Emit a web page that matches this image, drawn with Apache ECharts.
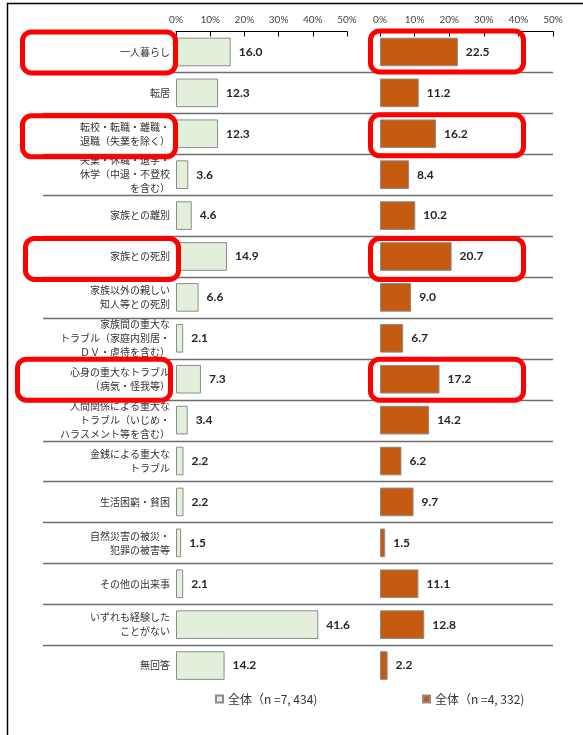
<!DOCTYPE html>
<html>
<head>
<meta charset="utf-8">
<script src="https://cdn.jsdelivr.net/npm/echarts@6/dist/echarts.min.js"></script>
<style>
  html, body { margin: 0; padding: 0; background: #fff; }
  #chart { width: 583px; height: 735px; }
</style>
</head>
<body>
<div id="chart"></div>
<script>
// Life events experienced, two respondent groups (percent)
const categories = [
  '一人暮らし',
  '転居',
  '転校・転職・離職・\n退職（失業を除く）',
  '失業・休職・退学・\n休学（中退・不登校\nを含む）',
  '家族との離別',
  '家族との死別',
  '家族以外の親しい\n知人等との死別',
  '家族間の重大な\nトラブル（家庭内別居・\nＤＶ・虐待を含む）',
  '心身の重大なトラブル\n（病気・怪我等）',
  '人間関係による重大な\nトラブル（いじめ・\nハラスメント等を含む）',
  '金銭による重大な\nトラブル',
  '生活困窮・貧困',
  '自然災害の被災・\n犯罪の被害等',
  'その他の出来事',
  'いずれも経験した\nことがない',
  '無回答'
];
const groupA = [16.0, 12.3, 12.3, 3.6, 4.6, 14.9, 6.6, 2.1, 7.3, 3.4, 2.2, 2.2, 1.5, 2.1, 41.6, 14.2];
const groupB = [22.5, 11.2, 16.2, 8.4, 10.2, 20.7, 9.0, 6.7, 17.2, 14.2, 6.2, 9.7, 1.5, 11.1, 12.8, 2.2];
const nameA = '全体（n =7, 434)';
const nameB = '全体（n =4, 332)';
// rows outlined in red
const highlighted = [0, 2, 5, 8];

const chart = echarts.init(document.getElementById('chart'));

const gridTop = 31.5, gridHeight = 654.5;

function pctAxis(gridIndex) {
  return {
    type: 'value', gridIndex, position: 'top', min: 0, max: 50, interval: 10,
    axisLine: { show: true, lineStyle: { color: '#000', width: 1 } },
    axisTick: { show: true, inside: true, length: 5, lineStyle: { color: '#000' } },
    axisLabel: { formatter: '{value}%', fontSize: 10, color: '#444', margin: 7, fontFamily: 'Lato' },
    splitLine: { show: false }
  };
}

function catAxis(gridIndex, showLabels) {
  return {
    type: 'category', gridIndex, data: categories, inverse: true,
    axisLine: { show: false }, axisTick: { show: false },
    axisLabel: {
      show: showLabels, interval: 0, margin: 6, fontSize: 10, lineHeight: 14,
      color: '#333', fontFamily: 'Noto Sans CJK JP', align: 'right'
    }
  };
}

const valueLabel = {
  show: true, position: 'right', distance: 8,
  fontFamily: 'Lato', fontWeight: 'bold', fontSize: 12, color: '#262626',
  formatter: p => p.value.toFixed(1)
};

chart.setOption({
  animation: false,
  backgroundColor: '#fff',
  grid: [
    { left: 176, width: 171, top: gridTop, height: gridHeight },
    { left: 380, width: 173, top: gridTop, height: gridHeight }
  ],
  xAxis: [pctAxis(0), pctAxis(1)],
  yAxis: [catAxis(0, true), catAxis(1, false)],
  legend: [
    {
      data: [nameA], left: 210, top: 688, icon: 'rect', itemWidth: 7, itemHeight: 7, itemGap: 4,
      textStyle: { fontSize: 12, color: '#333', fontFamily: 'Noto Sans CJK JP' }
    },
    {
      data: [nameB], left: 417, top: 688, icon: 'rect', itemWidth: 7, itemHeight: 7, itemGap: 4,
      textStyle: { fontSize: 12, color: '#333', fontFamily: 'Noto Sans CJK JP' }
    }
  ],
  series: [
    {
      name: nameA, type: 'bar', xAxisIndex: 0, yAxisIndex: 0, data: groupA, barWidth: '70%',
      itemStyle: { color: '#E2EFDA', borderColor: '#8c8c8c', borderWidth: 1 },
      label: valueLabel
    },
    {
      name: nameB, type: 'bar', xAxisIndex: 1, yAxisIndex: 1, data: groupB, barWidth: '70%',
      itemStyle: { color: '#C55A11', borderColor: '#8c8c8c', borderWidth: 1 },
      label: valueLabel
    }
  ]
});

// Row separators, red outlines and the outer frame, placed from the category scale
const rowY = i => chart.convertToPixel({ yAxisIndex: 0 }, i);
const graphics = [];

graphics.push({
  type: 'polyline', z: 0,
  shape: { points: [[7.5, 740], [7.5, 3.5], [590, 3.5]] },
  style: { stroke: '#000', lineWidth: 1.5, fill: null }
});

for (let i = 1; i < categories.length; i++) {
  const y = Math.round((rowY(i - 1) + rowY(i)) / 2) + 0.5;
  graphics.push({
    type: 'line', z: 0,
    shape: { x1: 43, y1: y, x2: 553, y2: y },
    style: { stroke: '#6e6e6e', lineWidth: 1.5 }
  });
}

// hand-drawn outlines sit slightly off the rows: [left x, dy, right x, dy]
const outlineShift = { 0: [0, 0, 0, -1], 2: [0, 2, 0, 1], 5: [3, 2, 0, 2], 8: [-5, 0, 0, 0] };
highlighted.forEach(i => {
  const cy = rowY(i);
  const s = outlineShift[i];
  [[20 + s[0], s[1]], [368 + s[2], s[3]]].forEach(([x, dy]) => {
    graphics.push({
      type: 'rect', z: 100,
      shape: { x: x + 2.5, y: cy - 20 + dy, width: 153, height: 41, r: 9 },
      style: { stroke: '#ff0000', lineWidth: 5, fill: null }
    });
  });
});

chart.setOption({ graphic: graphics });
</script>
</body>
</html>
